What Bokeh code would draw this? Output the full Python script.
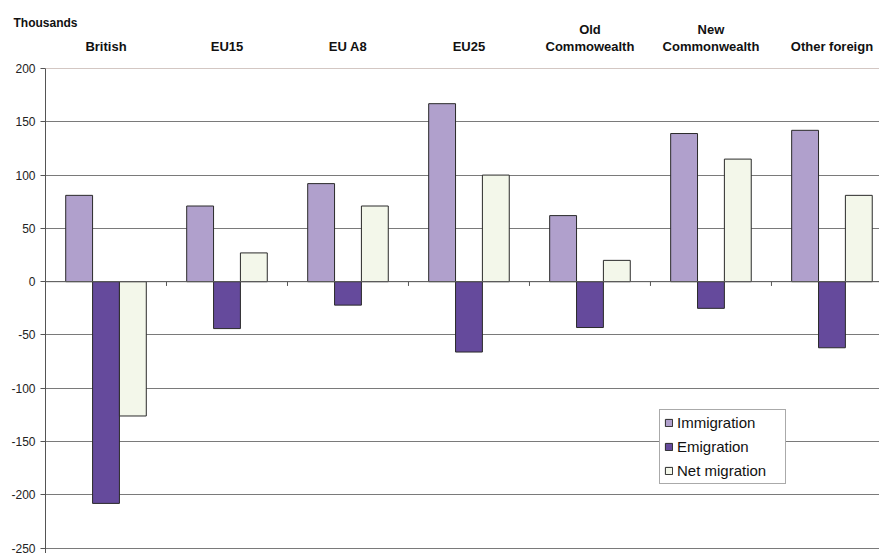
from bokeh.plotting import figure
from bokeh.models import (Range1d, FixedTicker, LinearAxis, Span,
                          Legend, LegendItem, ColumnDataSource)
from bokeh.embed import file_html
from bokeh.resources import INLINE

categories = ["British", "EU15", "EU A8", "EU25", "Old\nCommowealth",
              "New\nCommonwealth", "Other foreign"]
immigration = [81, 71, 92, 167, 62, 139, 142]
emigration = [-208, -44, -22, -66, -43, -25, -62]
net_migration = [-126, 27, 71, 100, 20, 115, 81]
y_ticks = [-250, -200, -150, -100, -50, 0, 50, 100, 150, 200]
y_tick_labels = ["-250", "-200", "-150", "-100", "-50", "0", "50", "100", "150", "200"]

FONT = "Liberation Sans"
n = len(categories)
pos = [i + 0.5 for i in range(n)]
bw = 0.222

p = figure(width=879, height=553, output_backend="svg", toolbar_location=None,
           x_range=Range1d(0, 6.893), y_range=Range1d(-255, 200),
           min_border_left=45, min_border_right=0, min_border_top=68,
           min_border_bottom=0, x_axis_location=None, y_axis_location=None)
p.outline_line_color = None
p.background_fill_color = "white"
p.border_fill_color = "white"

p.title.text = "Thousands"
p.title.align = "left"
p.title.text_font = FONT
p.title.text_font_size = "12px"
p.title.text_font_style = "bold"
p.title.text_color = "#111111"
p.title.offset = -32
p.title.standoff = -20

yaxis = LinearAxis(ticker=FixedTicker(ticks=y_ticks),
                   major_label_overrides={t: s for t, s in zip(y_ticks, y_tick_labels)})
yaxis.major_label_text_font = FONT
yaxis.major_label_text_font_size = "12px"
yaxis.major_label_text_color = "#222222"
yaxis.axis_line_color = "#555555"
yaxis.major_tick_line_color = "#555555"
yaxis.major_tick_out = 5
yaxis.major_tick_in = 0
yaxis.minor_tick_line_color = None
yaxis.major_label_standoff = 5
p.add_layout(yaxis, "left")

xaxis = LinearAxis(ticker=FixedTicker(ticks=pos),
                   major_label_overrides={pp: c for pp, c in zip(pos, categories)})
xaxis.major_label_text_font = FONT
xaxis.major_label_text_font_size = "13px"
xaxis.major_label_text_font_style = "bold"
xaxis.major_label_text_color = "#111111"
xaxis.major_label_text_line_height = 1.07
xaxis.axis_line_color = None
xaxis.major_tick_line_color = None
xaxis.minor_tick_line_color = None
xaxis.major_tick_out = 0
xaxis.major_tick_in = 0
xaxis.major_label_standoff = 15
p.add_layout(xaxis, "above")

p.xgrid.visible = False
p.ygrid.ticker = FixedTicker(ticks=y_ticks)
p.ygrid.grid_line_color = "#7a7a7a"
p.ygrid.grid_line_width = 1

src = ColumnDataSource(dict(
    xi=[x - bw for x in pos], xe=pos, xn=[x + bw for x in pos],
    imm=immigration, emi=emigration, net=net_migration))

r1 = p.vbar(x="xi", top="imm", bottom=0, width=bw, source=src,
            fill_color="#b0a0cc", line_color="#2a2a2a", line_width=1)
r2 = p.vbar(x="xe", top="emi", bottom=0, width=bw, source=src,
            fill_color="#654a9c", line_color="#2a2a2a", line_width=1)
r3 = p.vbar(x="xn", top="net", bottom=0, width=bw, source=src,
            fill_color="#f3f7ea", line_color="#2a2a2a", line_width=1)

p.add_layout(Span(location=0, dimension="width", line_color="#606060", line_width=1))
p.add_layout(Span(location=200, dimension="width", line_color="#a89088", line_width=1))

bounds = list(range(1, n))
p.segment(x0=bounds, y0=[0] * len(bounds), x1=bounds, y1=[-4] * len(bounds),
          line_color="#555555", line_width=1)

legend = Legend(items=[LegendItem(label="Immigration", renderers=[r1]),
                       LegendItem(label="Emigration", renderers=[r2]),
                       LegendItem(label="Net migration", renderers=[r3])],
                location=(614, 69))
legend.label_text_font = FONT
legend.label_text_font_size = "15px"
legend.label_text_color = "#111111"
legend.glyph_width = 9
legend.glyph_height = 9
legend.label_height = 17
legend.spacing = 7
legend.padding = 4
legend.margin = 0
legend.label_standoff = 4
legend.label_width = 104
legend.border_line_color = "#555555"
legend.border_line_width = 1
legend.background_fill_alpha = 1
p.add_layout(legend, "center")

open("out.html", "w").write(file_html(p, INLINE))
